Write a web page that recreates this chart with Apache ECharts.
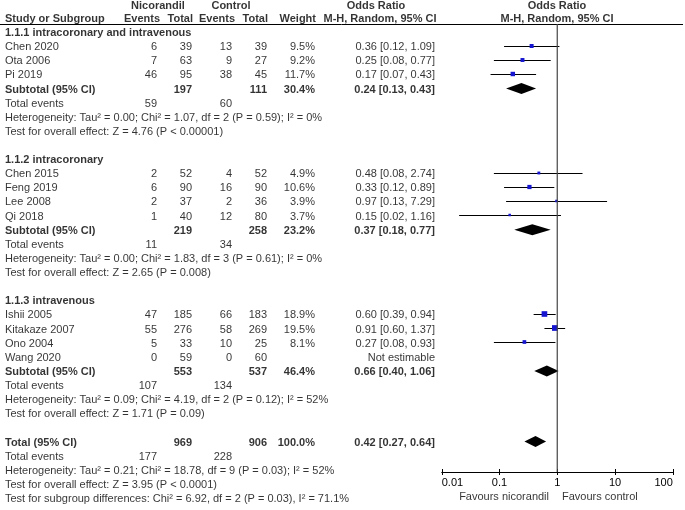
<!DOCTYPE html>
<html><head><meta charset="utf-8">
<script src="https://cdn.jsdelivr.net/npm/echarts@6/dist/echarts.min.js"></script>
<style>html,body{margin:0;padding:0;background:#fff}#c{width:685px;height:510px}</style>
</head><body><div id="c"></div>
<script>
// ---------- data ----------
const studyNames = ['Chen 2020','Ota 2006','Pi 2019','Chen 2015','Feng 2019','Lee 2008','Qi 2018','Ishii 2005','Kitakaze 2007','Ono 2004','Wang 2020'];
const studyGroup = [0,0,0,1,1,1,1,2,2,2,2];
const nicEvents = [6,7,46,2,6,2,1,47,55,5,0];
const nicTotal  = [39,63,95,52,90,37,40,185,276,33,59];
const ctlEvents = [13,9,38,4,16,2,12,66,58,10,0];
const ctlTotal  = [39,27,45,52,90,36,80,183,269,25,60];
const weights   = [9.5,9.2,11.7,4.9,10.6,3.9,3.7,18.9,19.5,8.1,null];
const orValue   = [0.36,0.25,0.17,0.48,0.33,0.97,0.15,0.60,0.91,0.27,null];
const orLow     = [0.12,0.08,0.07,0.08,0.12,0.13,0.02,0.39,0.60,0.08,null];
const orHigh    = [1.09,0.77,0.43,2.74,0.89,7.29,1.16,0.94,1.37,0.93,null];

const groupTitles    = ['1.1.1 intracoronary and intravenous','1.1.2 intracoronary','1.1.3 intravenous'];
const groupNicTotal  = [197,219,553];
const groupCtlTotal  = [111,258,537];
const groupWeight    = ['30.4%','23.2%','46.4%'];
const groupOR        = [0.24,0.37,0.66];
const groupLow       = [0.13,0.18,0.40];
const groupHigh      = [0.43,0.77,1.06];
const groupNicEvents = [59,11,107];
const groupCtlEvents = [60,34,134];
const groupHet  = ['Heterogeneity: Tau² = 0.00; Chi² = 1.07, df = 2 (P = 0.59); I² = 0%',
                   'Heterogeneity: Tau² = 0.00; Chi² = 1.83, df = 3 (P = 0.61); I² = 0%',
                   'Heterogeneity: Tau² = 0.09; Chi² = 4.19, df = 2 (P = 0.12); I² = 52%'];
const groupTest = ['Test for overall effect: Z = 4.76 (P < 0.00001)',
                   'Test for overall effect: Z = 2.65 (P = 0.008)',
                   'Test for overall effect: Z = 1.71 (P = 0.09)'];

const totalNic = 969, totalCtl = 906, totalWeight = '100.0%';
const totalOR = 0.42, totalLow = 0.27, totalHigh = 0.64;
const totalNicEvents = 177, totalCtlEvents = 228;
const totalHet  = 'Heterogeneity: Tau² = 0.21; Chi² = 18.78, df = 9 (P = 0.03); I² = 52%';
const totalTest = 'Test for overall effect: Z = 3.95 (P < 0.0001)';
const subgroupTest = 'Test for subgroup differences: Chi² = 6.92, df = 2 (P = 0.03), I² = 71.1%';

const tickLabels = ['0.01','0.1','1','10','100'];
const favoursLeft = 'Favours nicorandil', favoursRight = 'Favours control';

// ---------- layout ----------
const W = 685, H = 510;
const ROW_Y0 = 33, ROW_STEP = 14.12;
const rowOf = py => (py - ROW_Y0) / ROW_STEP;
const COL = {study: 5, nicEv: 157, nicTot: 192, ctlEv: 232, ctlTot: 267, weight: 315, or: 435, orHead: 380, plotMid: 557};
const PLOT = {left: 441.75, width: 231, top: 24, bottom: 472};
const FONT = "'Liberation Sans', Arial, sans-serif";
const FS = 11;
const fmt2 = v => v.toFixed(2);
const orText = (o,l,h) => fmt2(o) + ' [' + fmt2(l) + ', ' + fmt2(h) + ']';

// ---------- build rows ----------
const cells = [];   // table text cells
const ciData = [];  // [lo,hi,row]
const boxData = []; // [or,row,weight]
const diamondData = []; // [lo,or,hi,row]
function cell(x,row,text,align,bold){ cells.push({value:[x,row], name:String(text), label:{align:align, fontWeight: bold?'bold':'normal'}}); }

// headers
const h1 = rowOf(6), h2 = rowOf(19);
cell(158,h1,'Nicorandil','center',true);
cell(231,h1,'Control','center',true);
cell(376,h1,'Odds Ratio','center',true);
cell(COL.plotMid,h1,'Odds Ratio','center',true);
cell(COL.study,h2,'Study or Subgroup','left',true);
cell(160,h2,'Events','right',true);
cell(193,h2,'Total','right',true);
cell(235,h2,'Events','right',true);
cell(268,h2,'Total','right',true);
cell(316,h2,'Weight','right',true);
cell(COL.orHead,h2,'M-H, Random, 95% CI','center',true);
cell(COL.plotMid,h2,'M-H, Random, 95% CI','center',true);

let r = 0;
for (let g = 0; g < groupTitles.length; g++) {
  cell(COL.study, r, groupTitles[g], 'left', true); r++;
  for (let i = 0; i < studyNames.length; i++) {
    if (studyGroup[i] !== g) continue;
    cell(COL.study, r, studyNames[i], 'left', false);
    cell(COL.nicEv, r, nicEvents[i], 'right', false);
    cell(COL.nicTot, r, nicTotal[i], 'right', false);
    cell(COL.ctlEv, r, ctlEvents[i], 'right', false);
    cell(COL.ctlTot, r, ctlTotal[i], 'right', false);
    if (weights[i] != null) {
      cell(COL.weight, r, weights[i].toFixed(1) + '%', 'right', false);
      cell(COL.or, r, orText(orValue[i], orLow[i], orHigh[i]), 'right', false);
      ciData.push([orLow[i], orHigh[i], r]);
      boxData.push([orValue[i], r, weights[i]]);
    } else {
      cell(COL.or, r, 'Not estimable', 'right', false);
    }
    r++;
  }
  cell(COL.study, r, 'Subtotal (95% CI)', 'left', true);
  cell(COL.nicTot, r, groupNicTotal[g], 'right', true);
  cell(COL.ctlTot, r, groupCtlTotal[g], 'right', true);
  cell(COL.weight, r, groupWeight[g], 'right', true);
  cell(COL.or, r, orText(groupOR[g], groupLow[g], groupHigh[g]), 'right', true);
  diamondData.push([groupLow[g], groupOR[g], groupHigh[g], r]);
  r++;
  cell(COL.study, r, 'Total events', 'left', false);
  cell(COL.nicEv, r, groupNicEvents[g], 'right', false);
  cell(COL.ctlEv, r, groupCtlEvents[g], 'right', false);
  r++;
  cell(COL.study, r, groupHet[g], 'left', false); r++;
  cell(COL.study, r, groupTest[g], 'left', false); r++;
  r++; // blank
}
cell(COL.study, r, 'Total (95% CI)', 'left', true);
cell(COL.nicTot, r, totalNic, 'right', true);
cell(COL.ctlTot, r, totalCtl, 'right', true);
cell(COL.weight, r, totalWeight, 'right', true);
cell(COL.or, r, orText(totalOR, totalLow, totalHigh), 'right', true);
diamondData.push([totalLow, totalOR, totalHigh, r]);
r++;
cell(COL.study, r, 'Total events', 'left', false);
cell(COL.nicEv, r, totalNicEvents, 'right', false);
cell(COL.ctlEv, r, totalCtlEvents, 'right', false);
r++;
cell(COL.study, r, totalHet, 'left', false); r++;
cell(COL.study, r, totalTest, 'left', false); r++;
cell(COL.study, r, subgroupTest, 'left', false); r++;

// favours labels
cell(549, rowOf(497), favoursLeft, 'right', false);
cell(562, rowOf(497), favoursRight, 'left', false);

// ---------- chart ----------
const chart = echarts.init(document.getElementById('c'), null, {renderer:'canvas'});
const yPlotMin = rowOf(PLOT.top), yPlotMax = rowOf(PLOT.bottom);
const crisp = v => Math.round(v) + 0.5;

chart.setOption({
  animation: false,
  backgroundColor: '#fff',
  textStyle: {fontFamily: FONT},
  grid: [
    {left: PLOT.left, width: PLOT.width, top: PLOT.top, height: PLOT.bottom - PLOT.top, containLabel: false},
    {left: 0, right: 0, top: 0, bottom: 0, containLabel: false}
  ],
  xAxis: [
    {gridIndex:0, type:'log', logBase:10, min:0.01, max:100, position:'bottom',
     axisLine:{show:true, onZero:false, lineStyle:{color:'#000', width:1}},
     axisTick:{show:true, inside:false, length:3, lineStyle:{color:'#000'}},
     splitLine:{show:false}, minorTick:{show:false},
     axisLabel:{show:true, color:'#000', fontSize:FS, fontFamily:FONT, margin:5,
       alignMinLabel:'left', alignMaxLabel:'right', showMinLabel:true, showMaxLabel:true,
       formatter:(v,i)=>tickLabels[i]}},
    {gridIndex:0, type:'log', logBase:10, min:0.01, max:100, position:'bottom',
     axisLine:{show:false, onZero:false}, axisTick:{show:true, inside:true, length:3, lineStyle:{color:'#000'}},
     splitLine:{show:false}, axisLabel:{show:false}},
    {gridIndex:1, type:'value', min:0, max:W, show:false}
  ],
  yAxis: [
    {gridIndex:0, type:'value', inverse:true, min:yPlotMin, max:yPlotMax, show:false},
    {gridIndex:1, type:'value', inverse:true, min:rowOf(0), max:rowOf(H), show:false}
  ],
  series: [
    // header rule
    {type:'line', xAxisIndex:2, yAxisIndex:1, data:[[0,rowOf(24.5)],[683,rowOf(24.5)]], symbol:'none', silent:true,
     lineStyle:{color:'#000', width:1}},
    // line of no effect
    {type:'line', xAxisIndex:0, yAxisIndex:0, data:[[1,yPlotMin],[1,yPlotMax]], symbol:'none', silent:true,
     lineStyle:{color:'#444', width:1.2}, clip:false},
    // confidence intervals
    {type:'custom', xAxisIndex:0, yAxisIndex:0, data:ciData, clip:false,
     renderItem:(params, api)=>{
       const a = api.coord([api.value(0), api.value(2)]);
       const b = api.coord([api.value(1), api.value(2)]);
       const y = crisp(a[1]-1.5);
       return {type:'line', shape:{x1:a[0], y1:y, x2:b[0], y2:y}, style:{stroke:'#000', lineWidth:1}};
     }},
    // study boxes
    {type:'custom', xAxisIndex:0, yAxisIndex:0, data:boxData, clip:false,
     renderItem:(params, api)=>{
       const c = api.coord([api.value(0), api.value(1)]);
       const s = 1.3*Math.sqrt(api.value(2));
       const y = crisp(c[1]-1.5) - 0.5;
       return {type:'rect', shape:{x:c[0]-s/2, y:y-s/2, width:s, height:s}, style:{fill:'#1515d0'}};
     }},
    // diamonds
    {type:'custom', xAxisIndex:0, yAxisIndex:0, data:diamondData, clip:false,
     renderItem:(params, api)=>{
       const l = api.coord([api.value(0), api.value(3)]);
       const m = api.coord([api.value(1), api.value(3)]);
       const h = api.coord([api.value(2), api.value(3)]);
       const y = l[1]-1, hh = 5.5;
       return {type:'polygon', shape:{points:[[l[0],y],[m[0],y-hh],[h[0],y],[m[0],y+hh]]}, style:{fill:'#000'}};
     }},
    // table text
    {type:'scatter', xAxisIndex:2, yAxisIndex:1, data:cells, symbolSize:0, silent:true, clip:false,
     label:{show:true, position:'inside', formatter:'{b}', color:'#000', fontSize:FS, fontFamily:FONT,
            verticalAlign:'middle', distance:0}}
  ]
});
</script></body></html>
